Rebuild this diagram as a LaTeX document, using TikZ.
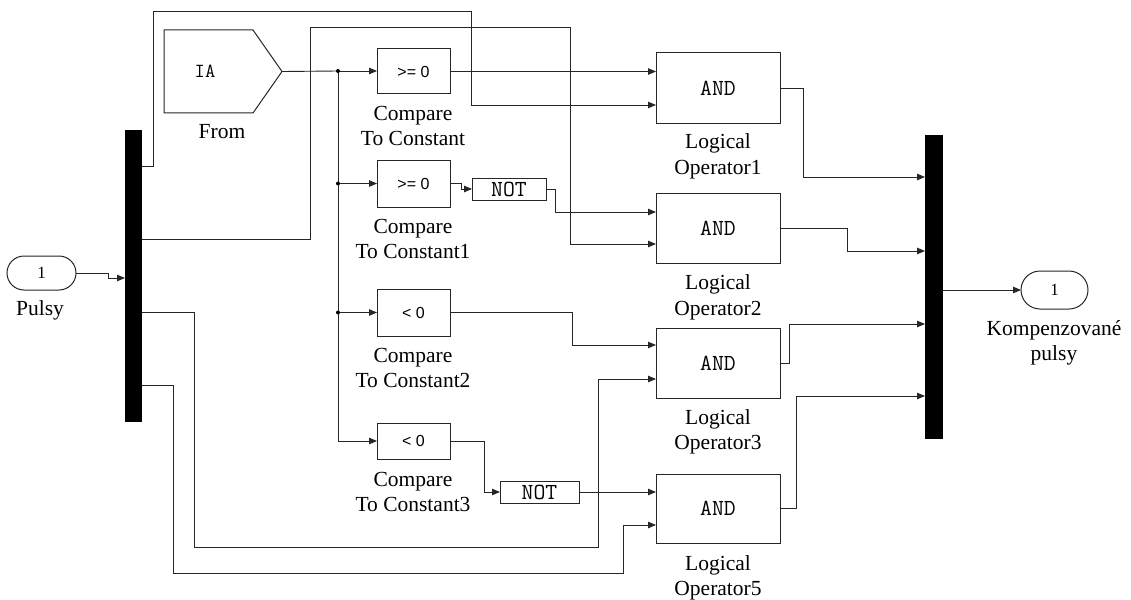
\documentclass[tikz,border=0pt]{standalone}
\usepackage{fontspec}
\setmainfont{Liberation Serif}
\newfontfamily\sansf{Liberation Sans}
\usetikzlibrary{arrows.meta}
\begin{document}
\begin{tikzpicture}[x=1pt,y=-1pt,
  wire/.style={draw=black!85, line width=0.9pt},
  arr/.style={wire, -{Triangle[length=8pt,width=6.5pt]}},
  blk/.style={draw=black!85, line width=1pt, fill=white, rectangle, anchor=north west, inner sep=0pt, outer sep=0pt},
  bar/.style={fill=black, draw=none, rectangle, anchor=north west, inner sep=0pt, outer sep=0pt},
  lbl/.style={anchor=base, inner sep=0pt, font=\fontsize{21.5}{25}\selectfont},
  mono/.style={font=\ttfamily\fontsize{23}{26}\selectfont},
  cmp/.style={font=\sansf\fontsize{16}{18}\selectfont},
  num/.style={font=\fontsize{17}{20}\selectfont},
  dot/.style={circle, fill=black, inner sep=0pt, minimum size=4pt}
]
\useasboundingbox (0,0) rectangle (1131,599);

% ports and buses
\node[blk, rounded corners=17pt, minimum width=69pt, minimum height=34pt, num] (pulsy) at (7,256) {1};
\node[bar, minimum width=17pt, minimum height=292pt] (demux) at (125,130) {};
\node[bar, minimum width=18pt, minimum height=304pt] (mux) at (925,135) {};
\node[blk, rounded corners=19pt, minimum width=67pt, minimum height=38pt, num] (out) at (1021,271) {1};

% From block
\node[rectangle, anchor=north west, inner sep=0pt, outer sep=0pt, minimum width=118pt, minimum height=83pt] (from) at (164,30) {};
\draw[draw=black!85, line width=1pt] (from.north west) -- ([xshift=-29pt]from.north east) -- (from.east) -- ([xshift=-29pt]from.south east) -- (from.south west) -- cycle;
\node[font=\ttfamily\fontsize{20}{22}\selectfont] (ia) at (205,71) {IA};

% compare blocks
\node[blk, minimum width=73pt, minimum height=45pt, cmp] (c0) at (377,49) {>= 0};
\node[blk, minimum width=73pt, minimum height=47pt, cmp] (c1) at (377,160) {>= 0};
\node[blk, minimum width=73pt, minimum height=47pt, cmp] (c2) at (377,289) {< 0};
\node[blk, minimum width=73pt, minimum height=36pt, cmp] (c3) at (377,423) {< 0};

% NOT blocks
\node[blk, minimum width=74pt, minimum height=22pt, mono] (not1) at (472,178) {NOT};
\node[blk, minimum width=79pt, minimum height=22pt, mono] (not2) at (500,481) {NOT};

% AND blocks
\node[blk, minimum width=124pt, minimum height=70pt, mono] (and1) at (656,53) {AND};
\node[blk, minimum width=124pt, minimum height=70pt, mono] (and2) at (656,193) {AND};
\node[blk, minimum width=124pt, minimum height=70pt, mono] (and3) at (656,328) {AND};
\node[blk, minimum width=124pt, minimum height=69pt, mono] (and5) at (656,474) {AND};

% labels
\node[lbl] (lpulsy) at (40,315) {Pulsy};
\node[lbl] (lfrom) at (222,139) {From};
\node[lbl] (lc0a) at (413,120.5) {Compare};
\node[lbl] (lc0b) at (413,145.5) {To Constant};
\node[lbl] (lc1a) at (413,233) {Compare};
\node[lbl] (lc1b) at (413,258) {To Constant1};
\node[lbl] (lc2a) at (413,362) {Compare};
\node[lbl] (lc2b) at (413,387) {To Constant2};
\node[lbl] (lc3a) at (413,486) {Compare};
\node[lbl] (lc3b) at (413,511) {To Constant3};
\node[lbl] (la1a) at (718,148.5) {Logical};
\node[lbl] (la1b) at (718,174) {Operator1};
\node[lbl] (la2a) at (718,289.5) {Logical};
\node[lbl] (la2b) at (718,315) {Operator2};
\node[lbl] (la3a) at (718,424.5) {Logical};
\node[lbl] (la3b) at (718,449.5) {Operator3};
\node[lbl] (la5a) at (718,570) {Logical};
\node[lbl] (la5b) at (718,595) {Operator5};
\node[lbl] (lka) at (1054,335) {Kompenzované};
\node[lbl] (lkb) at (1054,360) {pulsy};

% input to demux
\draw[arr] (pulsy.east) -- (108,273) |- (demux.west |- 0,278);

% demux outputs
\draw[arr] (demux.east |- 0,166) -| (153,11) -| (471,105) -- (and1.west |- 0,105);
\draw[arr] (demux.east |- 0,239) -| (310,27) -| (570,244) -- (and2.west |- 0,244);
\draw[arr] (demux.east |- 0,312) -| (194,547) -| (598,379) -- (and3.west |- 0,379);
\draw[arr] (demux.east |- 0,385) -| (173,573) -| (623,525) -- (and5.west |- 0,525);

% From distribution
\coordinate (j0) at (338,71);
\coordinate (j1) at (338,183.5);
\coordinate (j2) at (338,312.5);
\draw[wire] (from.east) -- (j0);
\draw[arr] (j0) -- (c0.west |- j0);
\draw[arr] (j0) |- (c3.west);
\draw[arr] (j1) -- (c1.west);
\draw[arr] (j2) -- (c2.west);
\node[dot] (d0) at (j0) {};
\node[dot] (d1) at (j1) {};
\node[dot] (d2) at (j2) {};

% compare outputs
\draw[arr] (c0.east) -- (and1.west |- c0.east);
\draw[arr] (c1.east) -- ++(11,0) |- (not1.west);
\draw[arr] (not1.east) -- ++(9,0) |- (and2.west |- 0,212);
\draw[arr] (c2.east) -- (572,312.5) |- (and3.west |- 0,345);
\draw[arr] (c3.east) -- ++(34,0) |- (not2.west);
\draw[arr] (not2.east) -- (and5.west |- not2.east);

% AND outputs to mux
\draw[arr] (and1.east) -- (803,88) |- (mux.west |- 0,177);
\draw[arr] (and2.east) -- (847,228) |- (mux.west |- 0,251);
\draw[arr] (and3.east) -- (789,363) |- (mux.west |- 0,324);
\draw[arr] (and5.east) -- (796,508.5) |- (mux.west |- 0,396);

% mux output
\draw[arr] (mux.east |- out.west) -- (out.west);
\end{tikzpicture}
\end{document}
